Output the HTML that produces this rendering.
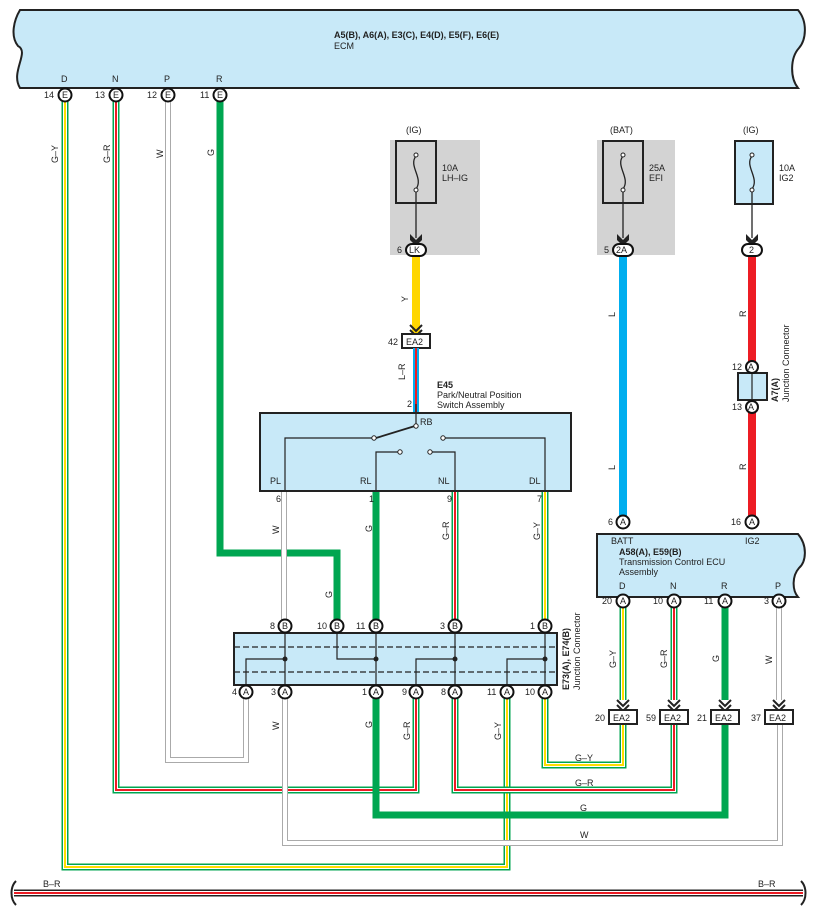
<!DOCTYPE html>
<html><head><meta charset="utf-8"><style>
html,body{margin:0;padding:0;background:#fff}
svg{display:block}
text{font-family:"Liberation Sans",sans-serif;font-size:9px;fill:#222}
.b{font-weight:bold}
.gO{fill:none;stroke:#00a651;stroke-width:7}
.wS{fill:none;stroke:#fff;stroke-width:4}
.yC{fill:none;stroke:#ffdd00;stroke-width:2}
.rC{fill:none;stroke:#ed1c24;stroke-width:2}
.wO{fill:none;stroke:#aaa;stroke-width:6}
.wI{fill:none;stroke:#fff;stroke-width:4}
.gT{fill:none;stroke:#00a651;stroke-width:7}
.pin{fill:#fff;stroke:#111;stroke-width:2}
.ln{fill:none;stroke:#222;stroke-width:1.2}
</style></head><body>
<svg width="817" height="915" viewBox="0 0 817 915" xmlns="http://www.w3.org/2000/svg">
<!-- ECM -->
<path d="M20,10 L798,10 C808,22 806,40 799,48 C790,58 790,78 798,88 L20,88 C10,72 30,52 18,46 C10,36 14,20 20,10 Z" fill="#c8e9f8" stroke="#222" stroke-width="2"/>
<text x="334" y="38" class="b">A5(B), A6(A), E3(C), E4(D), E5(F), E6(E)</text>
<text x="334" y="49">ECM</text>
<text x="61" y="82">D</text><text x="112" y="82">N</text><text x="164" y="82">P</text><text x="216" y="82">R</text>

<!-- fuse grey boxes -->
<rect x="390" y="140" width="90" height="115" fill="#d3d3d3"/>
<rect x="597" y="140" width="78" height="115" fill="#d3d3d3"/>
<text x="406" y="133">(IG)</text><text x="610" y="133">(BAT)</text><text x="743" y="133">(IG)</text>
<rect x="396" y="141" width="40" height="62" fill="none" stroke="#222" stroke-width="2"/>
<rect x="603" y="141" width="40" height="62" fill="none" stroke="#222" stroke-width="2"/>
<rect x="735" y="141" width="38" height="63" fill="#c8e9f8" stroke="#222" stroke-width="2"/>
<text x="442" y="171">10A</text><text x="442" y="181">LH–IG</text>
<text x="649" y="171">25A</text><text x="649" y="181">EFI</text>
<text x="779" y="171">10A</text><text x="779" y="181">IG2</text>
<g fill="none" stroke="#222" stroke-width="1.3">
<path d="M416,156 C408,166 424,178 416,189"/><path d="M623,156 C615,166 631,178 623,189"/><path d="M752,156 C744,166 760,178 752,189"/>
<path d="M416,189 V238"/><path d="M623,189 V238"/><path d="M752,189 V238"/>
</g>
<g fill="#fff" stroke="#222" stroke-width="1"><circle cx="416" cy="155" r="2"/><circle cx="416" cy="190" r="2"/><circle cx="623" cy="155" r="2"/><circle cx="623" cy="190" r="2"/><circle cx="752" cy="155" r="2"/><circle cx="752" cy="190" r="2"/></g>
<g fill="#222"><path d="M410,234 L416,240 L422,234 L422,240 L416,246 L410,240Z"/><path d="M617,234 L623,240 L629,234 L629,240 L623,246 L617,240Z"/><path d="M746,234 L752,240 L758,234 L758,240 L752,246 L746,240Z"/></g>

<!-- Y, L, R wires -->
<path d="M416,256 V334" stroke="#ffd600" stroke-width="8" fill="none"/>
<path d="M623,256 V516" stroke="#00aeef" stroke-width="8" fill="none"/>
<path d="M752,256 V362 M752,412 V516" stroke="#ed1c24" stroke-width="8" fill="none"/>
<g fill="none" stroke="#222" stroke-width="2"><path d="M410,325 L416,331 L422,325 M410,330 L416,336 L422,330"/></g>
<rect x="402" y="334" width="28" height="14" fill="#fff" stroke="#222" stroke-width="2"/><text x="406" y="345">EA2</text><text x="388" y="345">42</text>
<path d="M416,348 V412" stroke="#00aeef" stroke-width="6" fill="none"/><path d="M416,348 V412" stroke="#ed1c24" stroke-width="2" fill="none"/>
<text x="405" y="380" transform="rotate(-90 405 380)">L–R</text>
<text x="407" y="407">2</text>
<text transform="rotate(-90 408 302)" x="408" y="302">Y</text>
<text transform="rotate(-90 615 317)" x="615" y="317">L</text>
<text transform="rotate(-90 746 317)" x="746" y="317">R</text>
<text transform="rotate(-90 746 470)" x="746" y="470">R</text>
<text transform="rotate(-90 615 470)" x="615" y="470">L</text>
<text x="437" y="388" class="b">E45</text><text x="437" y="398">Park/Neutral Position</text><text x="437" y="408">Switch Assembly</text>
<!-- pin ovals -->
<rect x="406" y="244" width="20" height="12" rx="6" class="pin"/><text x="409" y="253">LK</text><text x="397" y="253">6</text>
<rect x="613" y="244" width="20" height="12" rx="6" class="pin"/><text x="616" y="253">2A</text><text x="604" y="253">5</text>
<rect x="742" y="244" width="20" height="12" rx="6" class="pin"/><text x="749" y="253">2</text>
<!-- A7 junction -->
<rect x="738" y="373" width="29" height="27" fill="#c8e9f8" stroke="#222" stroke-width="2"/><path d="M752,373 V400" class="ln"/>
<circle cx="752" cy="367" r="6" class="pin"/><text x="748" y="370">A</text><text x="732" y="370">12</text>
<circle cx="752" cy="407" r="6" class="pin"/><text x="748" y="410">A</text><text x="732" y="410">13</text>
<text transform="rotate(-90 778 402)" x="778" y="402" class="b">A7(A)</text>
<text transform="rotate(-90 789 402)" x="789" y="402">Junction Connector</text>

<!-- ECM wires -->
<!-- R thick G -->
<path d="M220,101 V553 H337 V620" class="gT"/>
<!-- P W -->
<path d="M168,101 V760 H246 V698" class="wO"/><path d="M168,101 V760 H246 V698" class="wI"/>
<!-- N G-R -->
<path d="M116,101 V790 H416 V698" class="gO"/><path d="M116,101 V790 H416 V698" class="wS"/><path d="M116,101 V790 H416 V698" class="rC"/>
<!-- D G-Y -->
<path d="M65,101 V867 H507 V698" class="gO"/><path d="M65,101 V867 H507 V698" class="wS"/><path d="M65,101 V867 H507 V698" class="yC"/>
<!-- A3 W -->
<path d="M285,698 V843 H780 V723" class="wO"/><path d="M285,698 V843 H780 V723" class="wI"/>
<!-- A1 G thick -->
<path d="M376,698 V815 H725 V723" class="gT"/>
<!-- A8 G-R -->
<path d="M455,698 V790 H674 V723" class="gO"/><path d="M455,698 V790 H674 V723" class="wS"/><path d="M455,698 V790 H674 V723" class="rC"/>
<!-- A10 G-Y -->
<path d="M545,698 V765 H623 V723" class="gO"/><path d="M545,698 V765 H623 V723" class="wS"/><path d="M545,698 V765 H623 V723" class="yC"/>
<!-- switch to JC -->
<path d="M284,492 V620" class="wO"/><path d="M284,492 V620" class="wI"/>
<path d="M376,492 V620" class="gT"/>
<path d="M455,492 V620" class="gO"/><path d="M455,492 V620" class="wS"/><path d="M455,492 V620" class="rC"/>
<path d="M545,492 V620" class="gO"/><path d="M545,492 V620" class="wS"/><path d="M545,492 V620" class="yC"/>
<!-- TCM to EA2 -->
<path d="M623,607 V700" class="gO"/><path d="M623,607 V700" class="wS"/><path d="M623,607 V700" class="yC"/>
<path d="M674,607 V700" class="gO"/><path d="M674,607 V700" class="wS"/><path d="M674,607 V700" class="rC"/>
<path d="M725,607 V700" class="gT"/>
<path d="M779,607 V700" class="wO"/><path d="M779,607 V700" class="wI"/>

<!-- ECM pins -->
<g><circle cx="65" cy="95" r="6.5" class="pin"/><circle cx="116" cy="95" r="6.5" class="pin"/><circle cx="168" cy="95" r="6.5" class="pin"/><circle cx="220" cy="95" r="6.5" class="pin"/></g>
<text x="62" y="98">E</text><text x="113" y="98">E</text><text x="165" y="98">E</text><text x="217" y="98">E</text>
<text x="44" y="98">14</text><text x="95" y="98">13</text><text x="147" y="98">12</text><text x="200" y="98">11</text>
<text transform="rotate(-90 58 163)" x="58" y="163">G–Y</text>
<text transform="rotate(-90 110 163)" x="110" y="163">G–R</text>
<text transform="rotate(-90 163 158)" x="163" y="158">W</text>
<text transform="rotate(-90 214 156)" x="214" y="156">G</text>

<!-- Switch box -->
<rect x="260" y="413" width="311" height="78" fill="#c8e9f8" stroke="#222" stroke-width="2"/>
<path d="M416,404 V425" class="ln"/>
<path d="M415,426 L376,438" stroke="#222" stroke-width="1.8"/>
<path d="M374,438 H285 V491 M445,438 H545 V491 M398,452 H376 V491 M432,452 H455 V491" class="ln"/>
<g fill="#fff" stroke="#222" stroke-width="1"><circle cx="416" cy="426" r="2.2"/><circle cx="374" cy="438" r="2.2"/><circle cx="443" cy="438" r="2.2"/><circle cx="400" cy="452" r="2.2"/><circle cx="430" cy="452" r="2.2"/></g>
<text x="420" y="425">RB</text>
<text x="270" y="484">PL</text><text x="360" y="484">RL</text><text x="438" y="484">NL</text><text x="529" y="484">DL</text>
<text x="276" y="502">6</text><text x="369" y="502">1</text><text x="447" y="502">9</text><text x="537" y="502">7</text>
<text transform="rotate(-90 279 534)" x="279" y="534">W</text>
<text transform="rotate(-90 372 532)" x="372" y="532">G</text>
<text transform="rotate(-90 449 540)" x="449" y="540">G–R</text>
<text transform="rotate(-90 540 540)" x="540" y="540">G–Y</text>
<text transform="rotate(-90 332 598)" x="332" y="598">G</text>

<!-- JC box -->
<rect x="234" y="633" width="323" height="52" fill="#c8e9f8" stroke="#222" stroke-width="2"/>
<path d="M234,647 H557 M234,672 H557" stroke="#222" stroke-width="1.3" stroke-dasharray="6,3"/>
<path d="M285,633 V685 M285,659 H246 V685 M337,633 V659 H376 M376,633 V685 M455,633 V685 M455,659 H416 V685 M545,633 V685 M545,659 H507 V685" class="ln"/>
<g fill="#222"><circle cx="285" cy="659" r="2.5"/><circle cx="376" cy="659" r="2.5"/><circle cx="455" cy="659" r="2.5"/><circle cx="545" cy="659" r="2.5"/></g>
<g>
<circle cx="285" cy="626" r="6.5" class="pin"/><circle cx="337" cy="626" r="6.5" class="pin"/><circle cx="376" cy="626" r="6.5" class="pin"/><circle cx="455" cy="626" r="6.5" class="pin"/><circle cx="545" cy="626" r="6.5" class="pin"/>
<circle cx="246" cy="692" r="6.5" class="pin"/><circle cx="285" cy="692" r="6.5" class="pin"/><circle cx="376" cy="692" r="6.5" class="pin"/><circle cx="416" cy="692" r="6.5" class="pin"/><circle cx="455" cy="692" r="6.5" class="pin"/><circle cx="507" cy="692" r="6.5" class="pin"/><circle cx="545" cy="692" r="6.5" class="pin"/>
</g>
<text x="282" y="629">B</text><text x="334" y="629">B</text><text x="373" y="629">B</text><text x="452" y="629">B</text><text x="542" y="629">B</text>
<text x="270" y="629">8</text><text x="317" y="629">10</text><text x="356" y="629">11</text><text x="440" y="629">3</text><text x="530" y="629">1</text>
<text x="243" y="695">A</text><text x="282" y="695">A</text><text x="373" y="695">A</text><text x="413" y="695">A</text><text x="452" y="695">A</text><text x="504" y="695">A</text><text x="542" y="695">A</text>
<text x="232" y="695">4</text><text x="271" y="695">3</text><text x="362" y="695">1</text><text x="402" y="695">9</text><text x="441" y="695">8</text><text x="487" y="695">11</text><text x="525" y="695">10</text>
<text transform="rotate(-90 569 690)" x="569" y="690" class="b">E73(A), E74(B)</text>
<text transform="rotate(-90 580 690)" x="580" y="690">Junction Connector</text>
<text transform="rotate(-90 279 730)" x="279" y="730">W</text>
<text transform="rotate(-90 372 728)" x="372" y="728">G</text>
<text transform="rotate(-90 410 740)" x="410" y="740">G–R</text>
<text transform="rotate(-90 501 740)" x="501" y="740">G–Y</text>

<!-- TCM -->
<path d="M597,534 L798,534 C808,546 806,562 799,568 C792,576 792,590 798,597 L597,597 Z" fill="#c8e9f8" stroke="#222" stroke-width="2"/>
<circle cx="623" cy="522" r="6.5" class="pin"/><text x="620" y="525">A</text><text x="608" y="525">6</text>
<circle cx="752" cy="522" r="6.5" class="pin"/><text x="749" y="525">A</text><text x="731" y="525">16</text>
<text x="611" y="544">BATT</text><text x="745" y="544">IG2</text>
<text x="619" y="555" class="b">A58(A), E59(B)</text>
<text x="619" y="565">Transmission Control ECU</text><text x="619" y="575">Assembly</text>
<text x="619" y="589">D</text><text x="670" y="589">N</text><text x="721" y="589">R</text><text x="775" y="589">P</text>
<circle cx="623" cy="601" r="6.5" class="pin"/><circle cx="674" cy="601" r="6.5" class="pin"/><circle cx="725" cy="601" r="6.5" class="pin"/><circle cx="779" cy="601" r="6.5" class="pin"/>
<text x="620" y="604">A</text><text x="671" y="604">A</text><text x="722" y="604">A</text><text x="776" y="604">A</text>
<text x="602" y="604">20</text><text x="653" y="604">10</text><text x="704" y="604">11</text><text x="764" y="604">3</text>
<text transform="rotate(-90 616 668)" x="616" y="668">G–Y</text>
<text transform="rotate(-90 667 668)" x="667" y="668">G–R</text>
<text transform="rotate(-90 719 662)" x="719" y="662">G</text>
<text transform="rotate(-90 772 664)" x="772" y="664">W</text>

<!-- EA2 bottom -->
<g fill="none" stroke="#222" stroke-width="2">
<path d="M617,700 L623,706 L629,700 M617,705 L623,711 L629,705"/>
<path d="M668,700 L674,706 L680,700 M668,705 L674,711 L680,705"/>
<path d="M719,700 L725,706 L731,700 M719,705 L725,711 L731,705"/>
<path d="M773,700 L779,706 L785,700 M773,705 L779,711 L785,705"/>
</g>
<g fill="#fff" stroke="#222" stroke-width="2">
<rect x="609" y="710" width="28" height="14"/><rect x="660" y="710" width="28" height="14"/><rect x="711" y="710" width="28" height="14"/><rect x="765" y="710" width="28" height="14"/>
</g>
<text x="613" y="721">EA2</text><text x="664" y="721">EA2</text><text x="715" y="721">EA2</text><text x="769" y="721">EA2</text>
<text x="595" y="721">20</text><text x="646" y="721">59</text><text x="697" y="721">21</text><text x="751" y="721">37</text>
<text x="575" y="761">G–Y</text><text x="575" y="786">G–R</text><text x="580" y="811">G</text><text x="580" y="838">W</text>

<!-- B-R bottom -->
<path d="M14,893 H803" stroke="#222" stroke-width="7"/>
<path d="M14,893 H803" stroke="#fff" stroke-width="4"/>
<path d="M14,893 H803" stroke="#ed1c24" stroke-width="2"/>
<path d="M16,881 C10,887 10,899 16,905" fill="none" stroke="#222" stroke-width="2"/>
<path d="M801,881 C807,887 807,899 801,905" fill="none" stroke="#222" stroke-width="2"/>
<text x="43" y="887">B–R</text><text x="758" y="887">B–R</text>
</svg>
</body></html>
